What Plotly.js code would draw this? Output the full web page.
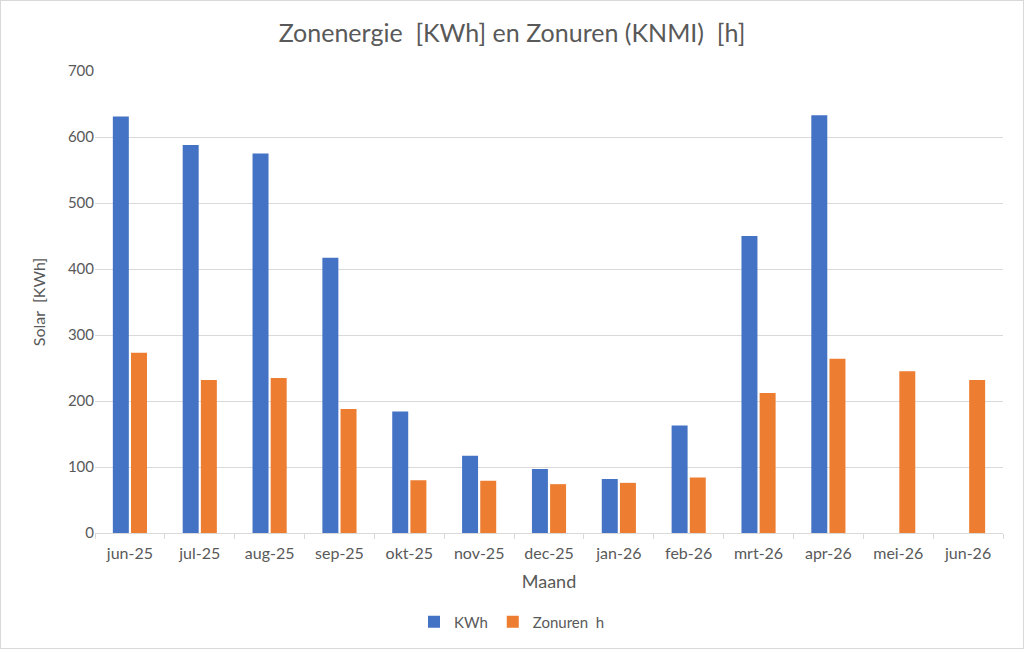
<!DOCTYPE html>
<html>
<head>
<meta charset="utf-8">
<script src="https://cdn.plot.ly/plotly-3.0.1.min.js"></script>
<style>
  html, body { margin: 0; padding: 0; background: #fff; }
  #chart { width: 1024px; height: 649px; box-sizing: border-box; border: 1px solid #d9d9d9; }
</style>
</head>
<body>
<div id="chart"></div>
<script>
var months = ['jun-25', 'jul-25', 'aug-25', 'sep-25', 'okt-25', 'nov-25', 'dec-25',
              'jan-26', 'feb-26', 'mrt-26', 'apr-26', 'mei-26', 'jun-26'];
var kwh = [631, 588, 575, 417, 184, 117, 97, 82, 163, 450, 633, null, null];
var zonuren = [273, 232, 235, 188, 80, 79, 74, 76, 84, 212, 264, 245, 232];

var grey = '#595959';

var data = [{
  type: 'bar',
  name: 'KWh',
  x: months,
  y: kwh,
  marker: { color: '#4472C4' },
  hoverinfo: 'x+y+name'
}, {
  type: 'bar',
  name: 'Zonuren  h',
  x: months,
  y: zonuren,
  marker: { color: '#ED7D31' },
  hoverinfo: 'x+y+name'
}];

var layout = {
  width: 1022,
  height: 647,
  margin: { l: 94, r: 20, t: 70, b: 115, autoexpand: false },
  paper_bgcolor: '#fff',
  plot_bgcolor: '#fff',
  font: { family: 'Lato, "Open Sans", sans-serif', color: grey, size: 15 },
  title: {
    text: 'Zonenergie  [KWh] en Zonuren (KNMI)  [h]',
    font: { size: 25, color: grey },
    x: 0.5, xanchor: 'center',
    y: 0.95, yanchor: 'middle'
  },
  barmode: 'group',
  bargap: 0.48,
  bargroupgap: 0.12,
  xaxis: {
    type: 'category',
    title: { text: 'Maand', font: { size: 18, color: grey }, standoff: 14 },
    showline: true,
    linecolor: '#d9d9d9',
    linewidth: 1,
    ticks: 'outside',
    tickson: 'boundaries',
    ticklen: 5,
    tickcolor: '#d9d9d9',
    ticklabelstandoff: 6,
    tickfont: { size: 16, color: grey },
    showgrid: false
  },
  yaxis: {
    title: { text: 'Solar  [KWh]', font: { size: 16, color: grey }, standoff: 18 },
    range: [0, 700],
    dtick: 100,
    showgrid: true,
    gridcolor: '#d9d9d9',
    zeroline: false,
    showline: false,
    tickfont: { size: 15, color: grey }
  },
  legend: {
    orientation: 'h',
    x: 0.5, xanchor: 'center', xref: 'container',
    y: 0.04, yanchor: 'middle', yref: 'container',
    font: { size: 15, color: grey },
    itemwidth: 30
  },
  showlegend: true
};

Plotly.newPlot('chart', data, layout, { displayModeBar: false, responsive: false });
</script>
</body>
</html>
